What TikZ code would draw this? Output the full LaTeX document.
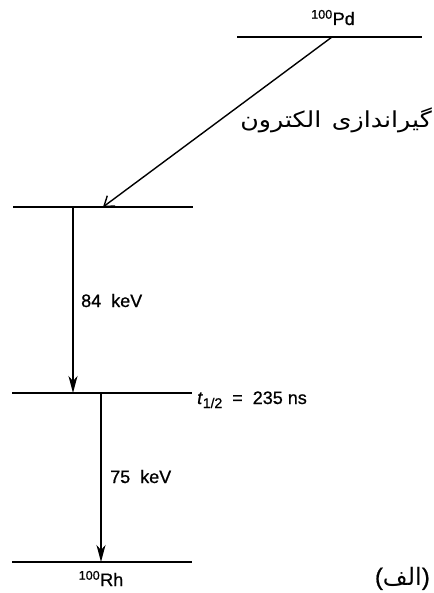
\documentclass[tikz,border=0pt]{standalone}
\usepackage{fontspec}
\usepackage{graphicx}
\setmainfont{Liberation Sans}
\newfontfamily\arabicfont[Script=Arabic]{DejaVu Sans}
\TeXXeTstate=1
\usetikzlibrary{arrows.meta}

\begin{document}
\begin{tikzpicture}[x=1pt,y=-1pt,
  level/.style={line width=1.4pt},
  gamma/.style={line width=1.3pt,-{Stealth[length=17pt,width=9pt,inset=5pt]}},
  capture/.style={line width=1.4pt,-{Straight Barb[length=9pt,width=13pt]}},
  lbl/.style={font=\fontsize{18}{21}\selectfont\addfontfeature{FakeBold=0.8},inner sep=0pt}]
  \useasboundingbox (0,0) rectangle (433,593);

  % Levels
  \coordinate (pdL) at (237,37);  \coordinate (pdR) at (422,37);
  \coordinate (l1L) at (13,207);  \coordinate (l1R) at (193,207);
  \coordinate (l2L) at (12,393);  \coordinate (l2R) at (192,393);
  \coordinate (rhL) at (12,562);  \coordinate (rhR) at (192,562);
  \draw[level] (pdL) -- (pdR);
  \draw[level] (l1L) -- (l1R);
  \draw[level] (l2L) -- (l2R);
  \draw[level] (rhL) -- (rhR);

  % Transitions
  \coordinate (ecTop) at (332,37);  \coordinate (ecBot) at (103,207);
  \coordinate (g1Top) at (73,207);  \coordinate (g1Bot) at (73,393);
  \coordinate (g2Top) at (101,393); \coordinate (g2Bot) at (101,562);
  \draw[capture] (ecTop) -- (ecBot);
  \draw[gamma] (g1Top) -- (g1Bot);
  \draw[gamma] (g2Top) -- (g2Bot);

  % Labels
  \node[lbl,anchor=base] (pd) at (333,25) {\textsuperscript{100}Pd};
  \node[lbl,anchor=base east] (ec) at (432,128)
    {\scalebox{1.15}[1]{\fontsize{22}{26}\arabicfont\beginR گیراندازی\hspace{2pt} الکترون\endR}};
  \node[lbl,anchor=base west] (e84) at (81,307) {84\ \ keV};
  \node[lbl,anchor=base west] (half) at (197,404)
    {\textit{t}{\fontsize{14}{16}\selectfont\raisebox{-4pt}{1/2}}\ \ =\ \ 235 ns};
  \node[lbl,anchor=base west] (e75) at (110,483) {75\ \ keV};
  \node[lbl,anchor=base] (rh) at (101,586) {\textsuperscript{100}Rh};
  \node[lbl,anchor=base east] (tag) at (430,585)
    {\fontsize{24}{28}\selectfont({\arabicfont\beginR الف\endR})};
\end{tikzpicture}
\end{document}
